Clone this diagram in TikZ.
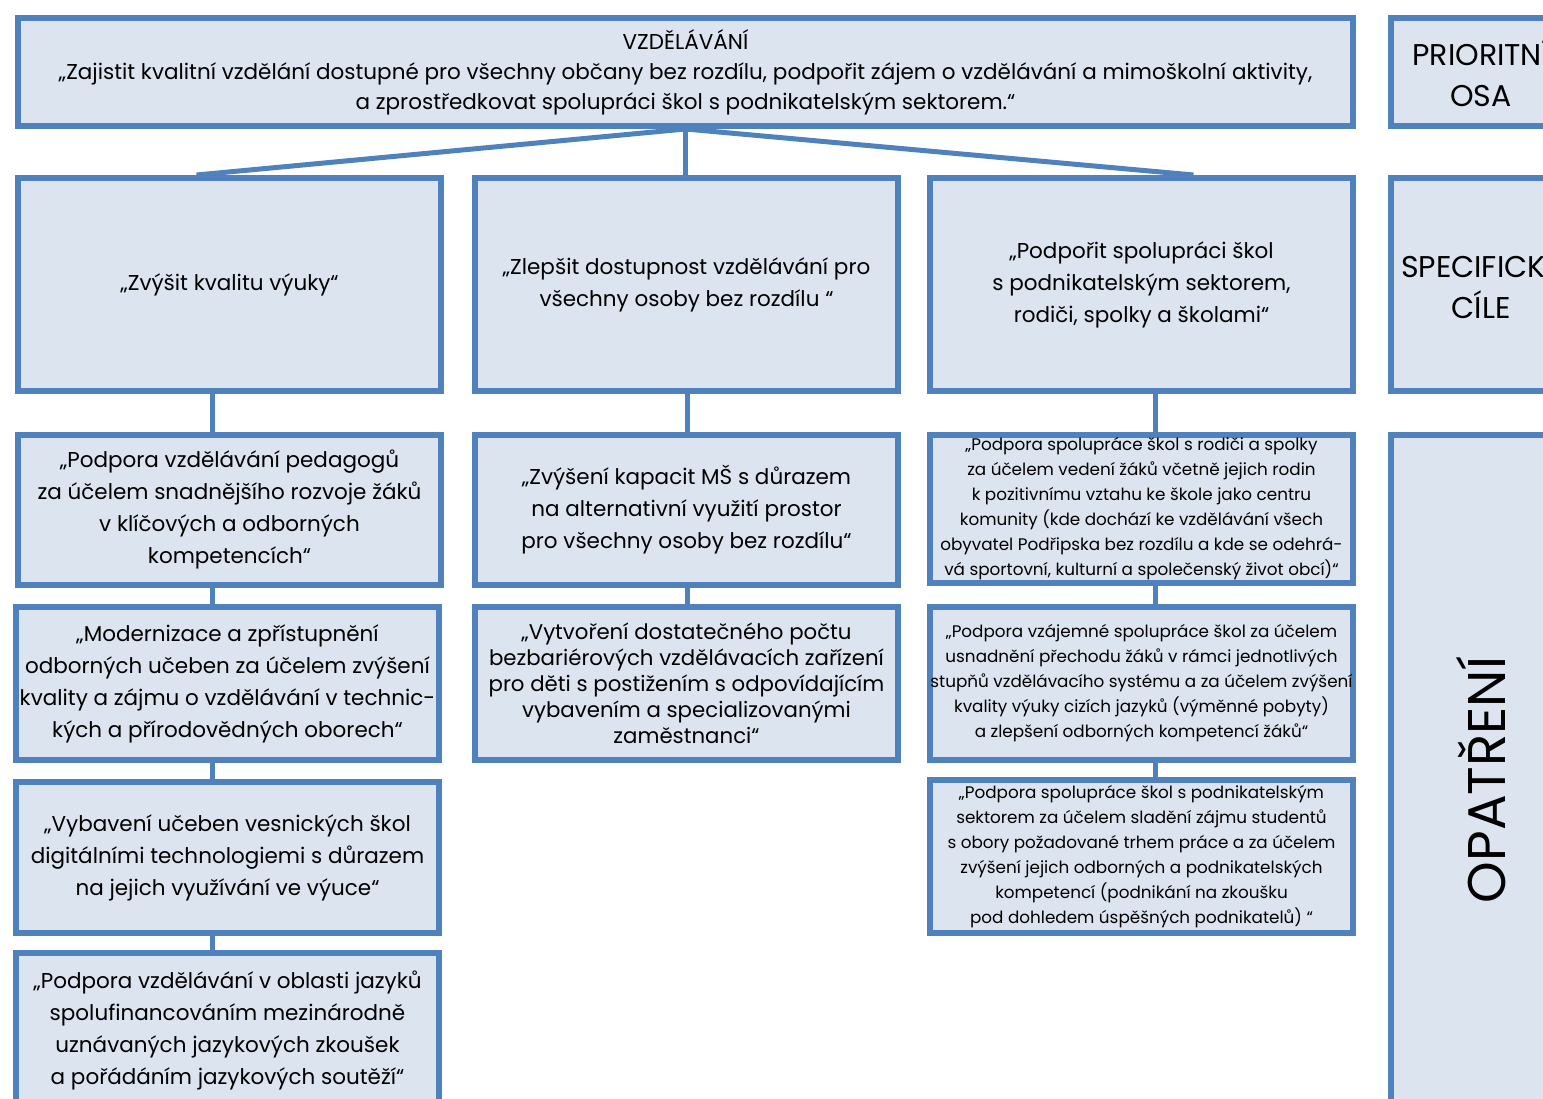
\documentclass[tikz,border=0pt]{standalone}
\usepackage{fontspec}
\setmainfont{Poppins}
\usepackage{xcolor}
\usepackage{tikz}
\usetikzlibrary{positioning}
\definecolor{boxline}{HTML}{4F81BD}
\definecolor{boxfill}{HTML}{DCE4F0}
\tikzstyle{box} = [rectangle, draw=boxline, fill=boxfill, line width=6pt, inner sep=0pt, align=center, anchor=north west]
\tikzstyle{link} = [draw=boxline, line width=5pt]
\tikzstyle{txt} = [font=\fontsize{21.5}{32}\selectfont]
\tikzstyle{txttop} = [font=\fontsize{21.5}{30}\selectfont]
\tikzstyle{txttight} = [font=\fontsize{21.3}{26}\selectfont]
\tikzstyle{txtsmall} = [font=\fontsize{16.8}{25}\selectfont]
\tikzstyle{txthead} = [font=\fontsize{30}{41}\selectfont]

\begin{document}
\begin{tikzpicture}[x=1pt, y=-1pt]
	\useasboundingbox (0,0) rectangle (1543,1099);
	\clip (0,0) rectangle (1543,1099);
	\coordinate (colA) at (212,0);
	\coordinate (colB) at (687,0);
	\coordinate (colC) at (1155,0);

	\node (osa) [box, txttop, minimum width=1335pt, minimum height=108pt] at (15,15) {VZDĚLÁVÁNÍ\\„Zajistit kvalitní vzdělání dostupné pro všechny občany bez rozdílu, podpořit zájem o vzdělávání a mimoškolní aktivity,\\a zprostředkovat spolupráci škol s podnikatelským sektorem.“};
	\node (osahead) [box, txthead, minimum width=180pt, minimum height=108pt] at (1388,15) {PRIORITNÍ\\OSA};

	\node (cilA) [box, txt, minimum width=423pt, minimum height=213pt] at (15,175) {„Zvýšit kvalitu výuky“};
	\node (cilB) [box, txt, minimum width=423pt, minimum height=213pt] at (472,175) {„Zlepšit dostupnost vzdělávání pro\\všechny osoby bez rozdílu “};
	\node (cilC) [box, txt, minimum width=423pt, minimum height=213pt] at (927,175) {„Podpořit spolupráci škol\\s podnikatelským sektorem,\\rodiči, spolky a školami“};
	\node (cilhead) [box, txthead, minimum width=180pt, minimum height=213pt] at (1388,175) {SPECIFICKÉ\\CÍLE};

	\node (opA1) [box, txt, minimum width=423pt, minimum height=150pt] at (15,432) {„Podpora vzdělávání pedagogů\\za účelem snadnějšího rozvoje žáků\\v klíčových a odborných\\kompetencích“};
	\node (opA2) [box, txt, minimum width=423pt, minimum height=153pt] at (13,604) {„Modernizace a zpřístupnění\\odborných učeben za účelem zvýšení\\kvality a zájmu o vzdělávání v technic-\\kých a přírodovědných oborech“};
	\node (opA3) [box, txt, minimum width=423pt, minimum height=151pt] at (13,779) {„Vybavení učeben vesnických škol\\digitálními technologiemi s důrazem\\na jejich využívání ve výuce“};
	\node (opA4) [box, txt, minimum width=423pt, minimum height=155pt] at (13,950) {„Podpora vzdělávání v oblasti jazyků\\spolufinancováním mezinárodně\\uznávaných jazykových zkoušek\\a pořádáním jazykových soutěží“};

	\node (opB1) [box, txt, minimum width=423pt, minimum height=150pt] at (472,432) {„Zvýšení kapacit MŠ s důrazem\\na alternativní využití prostor\\pro všechny osoby bez rozdílu“};
	\node (opB2) [box, txttight, minimum width=423pt, minimum height=153pt] at (472,604) {„Vytvoření dostatečného počtu\\bezbariérových vzdělávacích zařízení\\pro děti s postižením s odpovídajícím\\vybavením a specializovanými\\zaměstnanci“};

	\node (opC1) [box, txtsmall, minimum width=423pt, minimum height=148pt] at (927,432) {„Podpora spolupráce škol s rodiči a spolky\\za účelem vedení žáků včetně jejich rodin\\k pozitivnímu vztahu ke škole jako centru\\komunity (kde dochází ke vzdělávání všech\\obyvatel Podřipska bez rozdílu a kde se odehrá-\\vá sportovní, kulturní a společenský život obcí)“};
	\node (opC2) [box, txtsmall, minimum width=423pt, minimum height=153pt] at (927,604) {„Podpora vzájemné spolupráce škol za účelem\\usnadnění přechodu žáků v rámci jednotlivých\\stupňů vzdělávacího systému a za účelem zvýšení\\kvality výuky cizích jazyků (výměnné pobyty)\\a zlepšení odborných kompetencí žáků“};
	\node (opC3) [box, txtsmall, minimum width=423pt, minimum height=153pt] at (927,777) {„Podpora spolupráce škol s podnikatelským\\sektorem za účelem sladění zájmu studentů\\s obory požadované trhem práce a za účelem\\zvýšení jejich odborných a podnikatelských\\kompetencí (podnikání na zkoušku\\pod dohledem úspěšných podnikatelů) “};

	\node (ophead) [box, minimum width=180pt, minimum height=690pt] at (1388,432) {};
	\node (opheadtext) [font=\fontsize{53}{56}\selectfont, rotate=90] at (ophead.center) {OPATŘENÍ};

	\draw [link] (osa.south) -- ([xshift=-33pt]cilA.north);
	\draw [link] (osa.south) -- (osa.south |- cilB.north);
	\draw [link] (osa.south) -- ([xshift=52pt]cilC.north);

	\draw [link] (cilA.south -| colA) -- (opA1.north -| colA);
	\draw [link] (opA1.south -| colA) -- (opA2.north -| colA);
	\draw [link] (opA2.south -| colA) -- (opA3.north -| colA);
	\draw [link] (opA3.south -| colA) -- (opA4.north -| colA);

	\draw [link] (cilB.south -| colB) -- (opB1.north -| colB);
	\draw [link] (opB1.south -| colB) -- (opB2.north -| colB);

	\draw [link] (cilC.south -| colC) -- (opC1.north -| colC);
	\draw [link] (opC1.south -| colC) -- (opC2.north -| colC);
	\draw [link] (opC2.south -| colC) -- (opC3.north -| colC);
\end{tikzpicture}
\end{document}
